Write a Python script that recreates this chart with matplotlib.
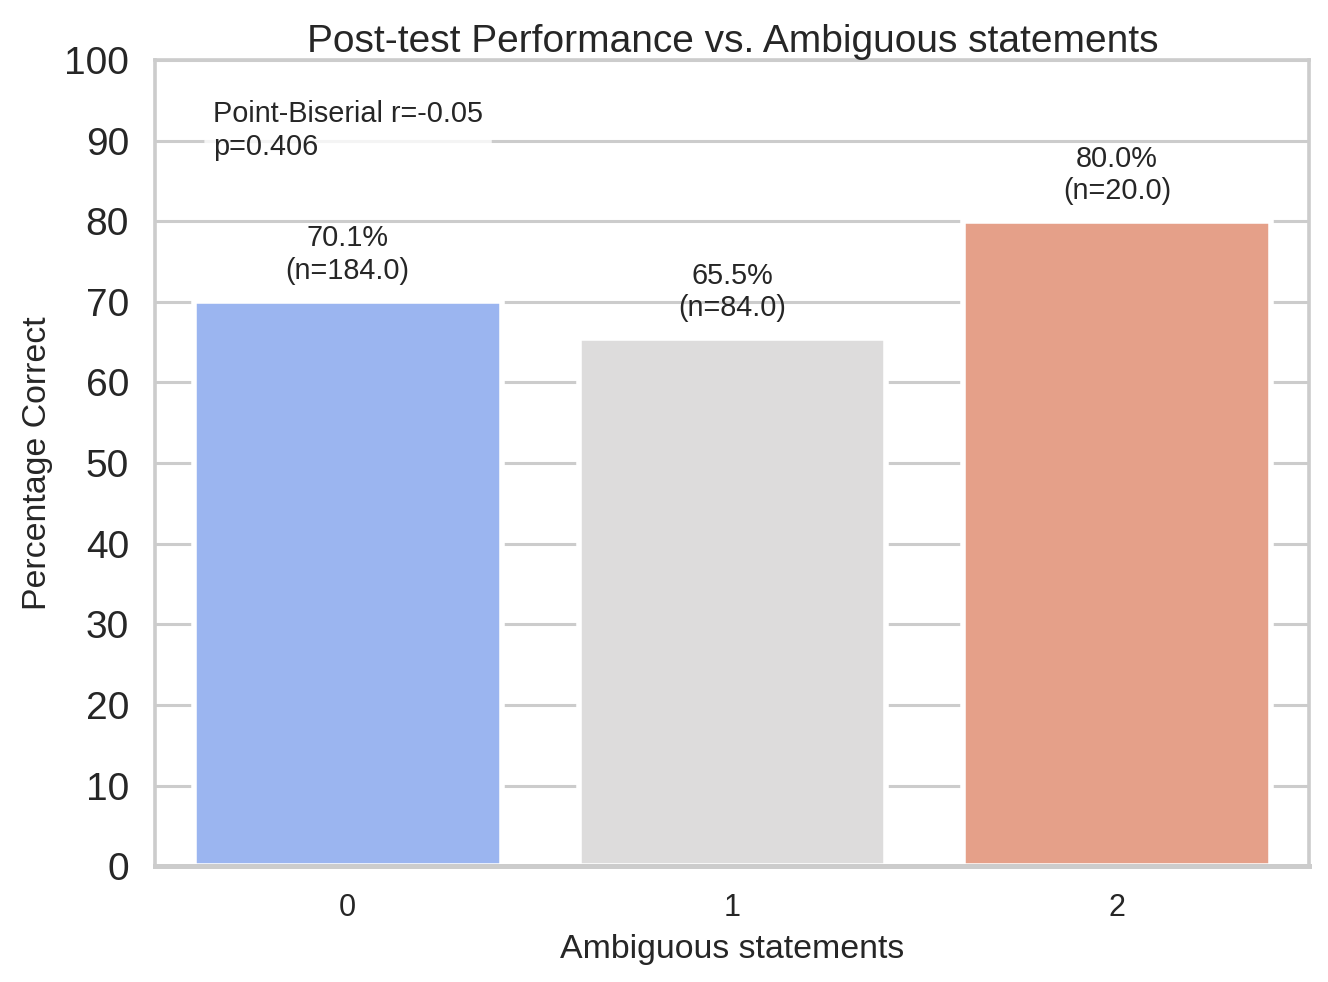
import matplotlib
matplotlib.use("Agg")
import matplotlib.pyplot as plt
import seaborn as sns

categories = ["0", "1", "2"]
pct_correct = [70.1, 65.5, 80.0]
n_counts = [184.0, 84.0, 20.0]
r_value = -0.05
p_value = 0.406

sns.set_theme(style="whitegrid")
plt.rcParams['font.family'] = ['Liberation Sans', 'DejaVu Sans']
plt.rcParams['axes.edgecolor'] = '#cccccc'
plt.rcParams['grid.color'] = '#cccccc'

fig, ax = plt.subplots(figsize=(6.64, 4.91), dpi=200)
fig.subplots_adjust(left=0.117, right=0.986, top=0.939, bottom=0.118)

palette = sns.color_palette("coolwarm", len(categories))
sns.barplot(x=categories, y=pct_correct, hue=categories, palette=palette,
            saturation=0.75, legend=False, ax=ax, edgecolor="white", linewidth=2)

for i, (v, n) in enumerate(zip(pct_correct, n_counts)):
    ax.text(i, v + 2, f"{v:.1f}%\n(n={n:.1f})", ha="center", va="bottom",
            fontsize=10.4, color="#262626")

ax.text(0.05, 0.95, f"Point-Biserial r={r_value:.2f}\np={p_value:.3f}",
        transform=ax.transAxes, ha="left", va="top", fontsize=10.4, color="#262626",
        bbox=dict(boxstyle="round,pad=0.3", facecolor="white", edgecolor="none", alpha=0.8))

ax.set_ylim(0, 100)
ax.set_yticks(range(0, 101, 10))
ax.tick_params(axis="y", labelsize=14)
ax.tick_params(axis="x", labelsize=11)
for sp in ax.spines.values():
    sp.set_linewidth(1.3)
ax.spines["bottom"].set_linewidth(1.8)
ax.grid(axis="y", linewidth=1.1)
ax.grid(axis="x", visible=False)
ax.set_axisbelow(True)

ax.set_title("Post-test Performance vs. Ambiguous statements", fontsize=14, pad=3)
ax.set_xlabel("Ambiguous statements", fontsize=12.2)
ax.set_ylabel("Percentage Correct", fontsize=12.2)

plt.savefig("out.png", dpi=200)
